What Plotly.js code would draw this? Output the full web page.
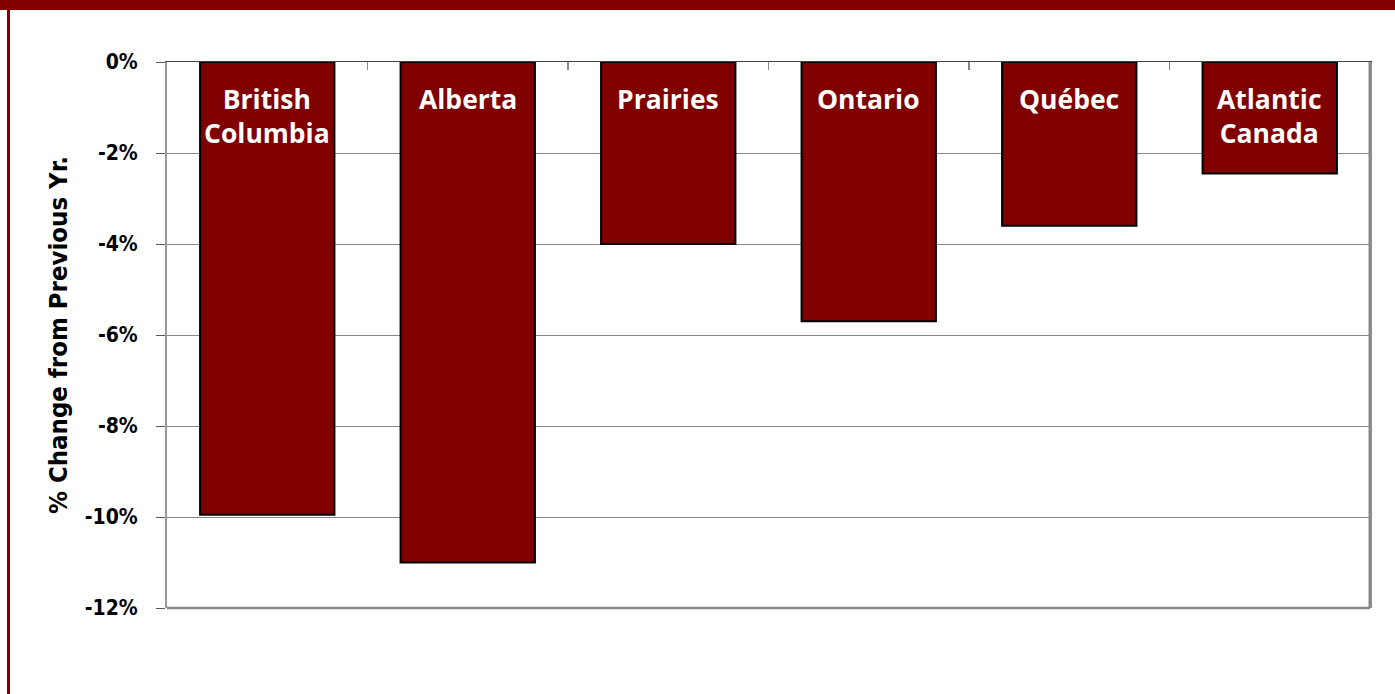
<!DOCTYPE html>
<html>
<head>
<meta charset="utf-8">
<script src="https://cdn.plot.ly/plotly-3.0.1.min.js"></script>
<style>
  html, body { margin: 0; padding: 0; background: #fff; }
  #wrap { position: relative; width: 1395px; height: 694px; overflow: hidden; }
  #chart { position: absolute; left: 0; top: 0; width: 1395px; height: 694px; }
  #band { position: absolute; left: 0; top: 0; width: 1395px; height: 10px; background: #800000; }
  #lside { position: absolute; left: 7px; top: 0; width: 3px; height: 694px; background: #800000; }
</style>
</head>
<body>
<div id="wrap">
  <div id="chart"></div>
  <div id="band"></div>
  <div id="lside"></div>
</div>
<script>
const regions = ['British Columbia', 'Alberta', 'Prairies', 'Ontario', 'Québec', 'Atlantic Canada'];
const regionLabels = ['British<br>Columbia', 'Alberta', 'Prairies', 'Ontario', 'Québec', 'Atlantic<br>Canada'];
const changePct = [-9.95, -11.0, -4.0, -5.7, -3.6, -2.45];
const yTickVals = [0, -2, -4, -6, -8, -10, -12];
const yTickText = ['0%', '-2%', '-4%', '-6%', '-8%', '-10%', '-12%'];

const trace = {
  type: 'bar',
  x: regions,
  y: changePct,
  width: 0.67,
  marker: { color: '#800000', line: { color: '#000000', width: 2 } },
  hoverinfo: 'x+y'
};

const annotations = regions.map((r, i) => ({
  x: r, y: 0, xref: 'x', yref: 'y',
  text: regionLabels[i],
  showarrow: false,
  yanchor: 'top',
  yshift: -17,
  font: { family: 'Open Sans, sans-serif', size: 26.5, color: '#ffffff', weight: 'bold' }
}));

const axisFont = 'DejaVu Sans Condensed, DejaVu Sans, sans-serif';

const layout = {
  width: 1395, height: 694,
  margin: { l: 167, r: 25, t: 62, b: 86 },
  paper_bgcolor: '#ffffff',
  plot_bgcolor: '#ffffff',
  showlegend: false,
  bargap: 0.33,
  xaxis: {
    side: 'top',
    type: 'category',
    showticklabels: false,
    ticks: 'inside',
    tickson: 'boundaries',
    ticklen: 8,
    tickcolor: '#888888',
    tickwidth: 1.5,
    showgrid: false,
    showline: true,
    linecolor: '#444444',
    linewidth: 1.5,
    zeroline: false,
    fixedrange: true
  },
  yaxis: {
    range: [-12, 0],
    tickvals: yTickVals,
    ticktext: yTickText,
    ticks: 'outside',
    ticklen: 9,
    tickcolor: '#555555',
    tickwidth: 1,
    ticklabelstandoff: 14,
    tickfont: { family: axisFont, size: 21, color: '#000000', weight: 'bold' },
    showgrid: true,
    gridcolor: '#888888',
    gridwidth: 1,
    zeroline: false,
    showline: true,
    mirror: true,
    linecolor: '#999999',
    linewidth: 2,
    title: {
      text: '% Change from Previous Yr.',
      font: { family: axisFont, size: 25.5, color: '#000000', weight: 'bold' },
      standoff: 10
    },
    fixedrange: true
  },
  shapes: [
    { type: 'line', xref: 'paper', yref: 'paper', x0: 0, x1: 1, y0: 0, y1: 0,
      line: { color: '#888888', width: 2.5 } },
    { type: 'line', xref: 'paper', yref: 'paper', x0: 1, x1: 1, y0: 0, y1: 1,
      line: { color: '#888888', width: 3 } }
  ],
  annotations: annotations
};

Plotly.newPlot('chart', [trace], layout, { displayModeBar: false, staticPlot: true });
</script>
</body>
</html>
